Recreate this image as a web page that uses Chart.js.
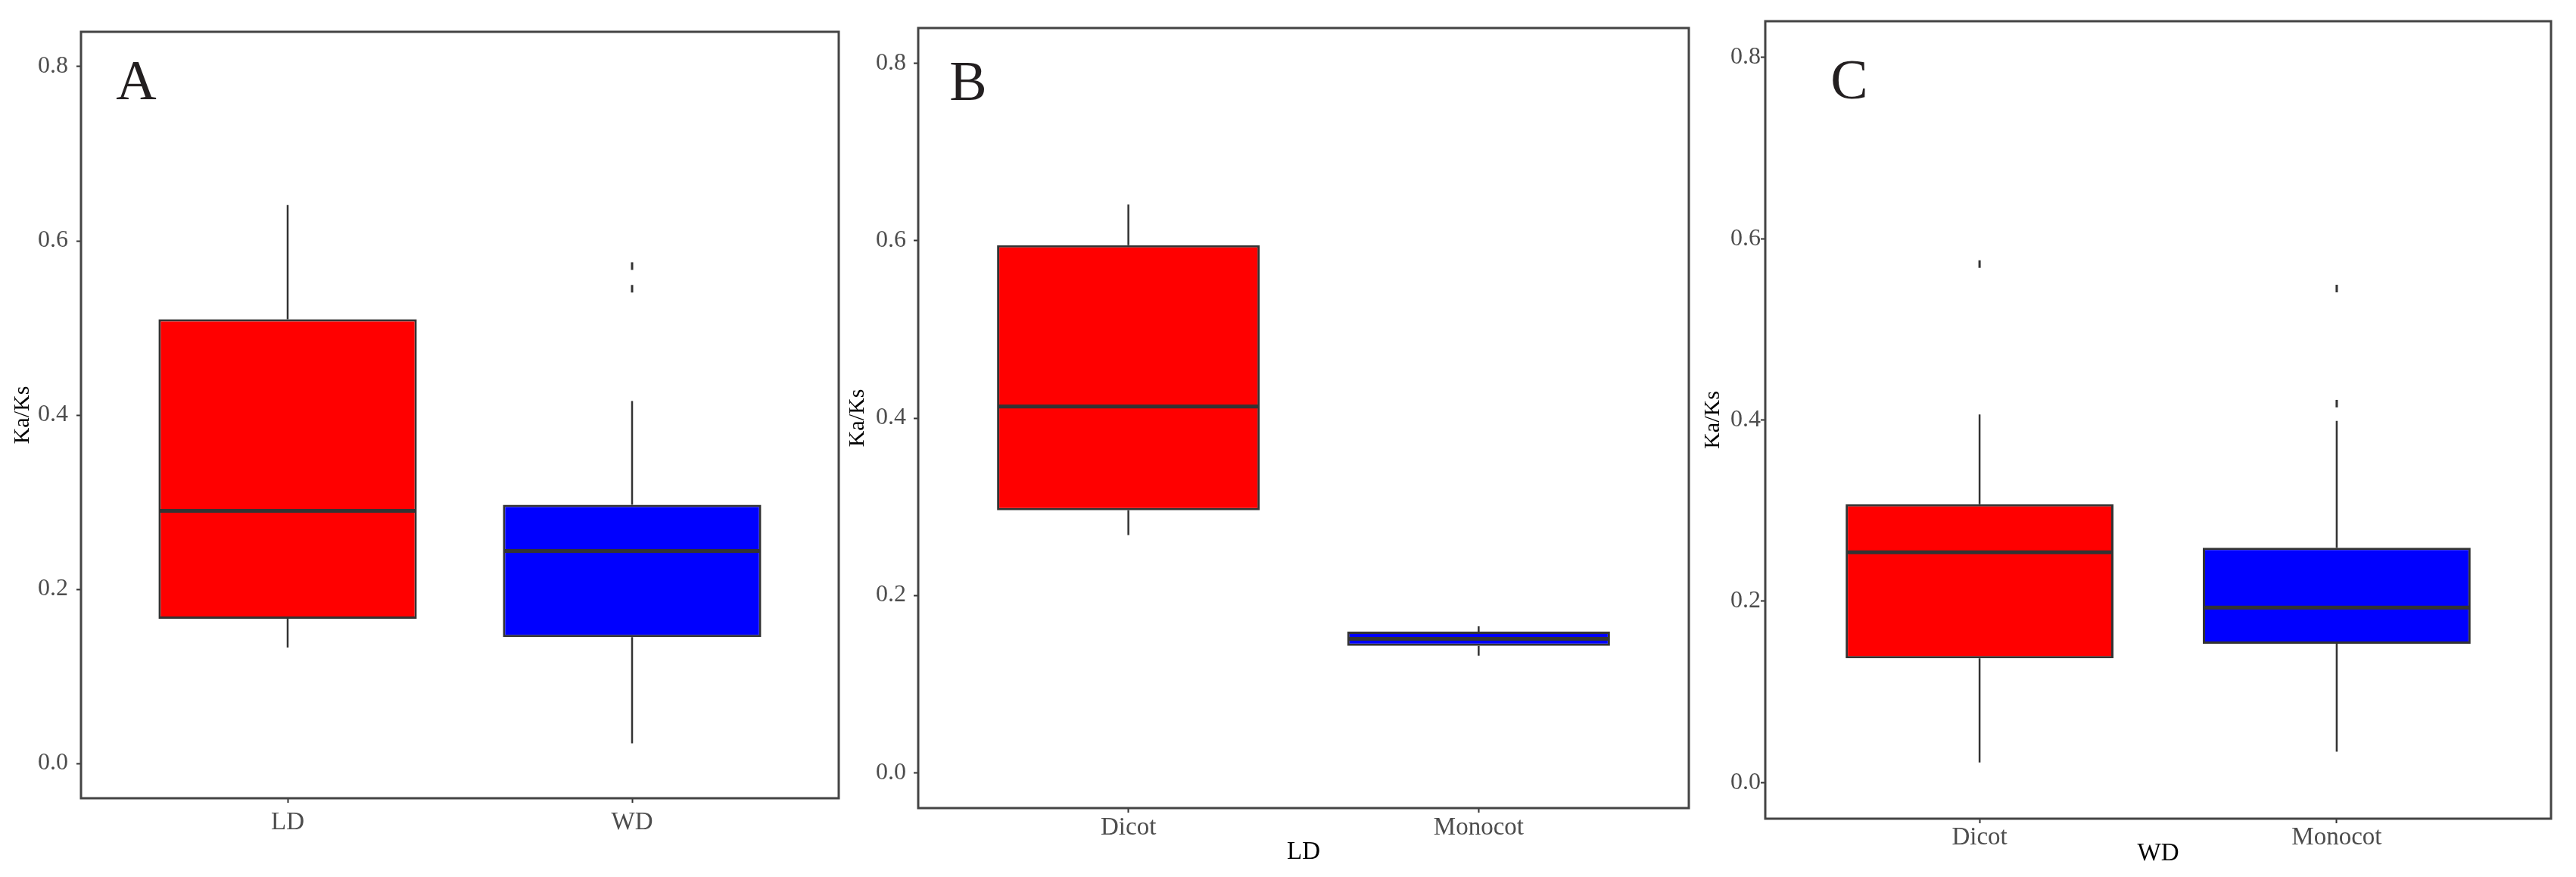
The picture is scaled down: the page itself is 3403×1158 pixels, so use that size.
<!DOCTYPE html>
<html>
<head>
<meta charset="utf-8">
<script src="https://cdn.jsdelivr.net/npm/chart.js@4.4.1/dist/chart.umd.min.js"></script>
<style>
    html, body { margin: 0; padding: 0; background: #fff; }
    #wrap { position: relative; width: 3403px; height: 1158px; }
    canvas { position: absolute; top: 0; }
</style>
</head>
<body>
<div id="wrap">
    <canvas id="chartA" width="1116" height="1158" style="left:0px"></canvas>
    <canvas id="chartB" width="1120" height="1158" style="left:1116px"></canvas>
    <canvas id="chartC" width="1167" height="1158" style="left:2236px"></canvas>
</div>
<script>
// Ka/Ks box plots
const yTicks = [0, 0.2, 0.4, 0.6, 0.8];
const boxColors = ["#ff0000", "#0000ff"];

// Panel A: LD vs WD
const categoriesA = ["LD", "WD"];
const lowA = [0.133, 0.023];
const q1A = [0.166, 0.145];
const medianA = [0.290, 0.244];
const q3A = [0.510, 0.297];
const highA = [0.641, 0.416];
const outliersA = [[], [0.545, 0.571]];

// Panel B: LD, Dicot vs Monocot
const categoriesB = ["Dicot", "Monocot"];
const lowB = [0.268, 0.132];
const q1B = [0.296, 0.143];
const medianB = [0.413, 0.151];
const q3B = [0.595, 0.159];
const highB = [0.641, 0.165];
const outliersB = [[], []];

// Panel C: WD, Dicot vs Monocot
const categoriesC = ["Dicot", "Monocot"];
const lowC = [0.022, 0.034];
const q1C = [0.137, 0.153];
const medianC = [0.254, 0.193];
const q3C = [0.307, 0.259];
const highC = [0.406, 0.399];
const outliersC = [[0.572], [0.418, 0.545]];

const serif = "'Liberation Serif', 'Times New Roman', serif";

function makePanel(id, cfg) {
    const canvas = document.getElementById(id);
    const stats = cfg.stats;

    // whiskers + median, positioned from the bar elements and the y scale
    const boxParts = {
        id: "boxParts",
        afterDatasetsDraw(chart) {
            const { ctx } = chart;
            const y = chart.scales.y;
            const bars = chart.getDatasetMeta(0).data;
            ctx.save();
            ctx.strokeStyle = "#333333";
            bars.forEach((bar, i) => {
                const x = bar.x;
                const half = bar.width / 2;
                ctx.lineWidth = 2.5;
                ctx.beginPath();
                ctx.moveTo(x, y.getPixelForValue(stats.high[i]));
                ctx.lineTo(x, y.getPixelForValue(stats.q3[i]));
                ctx.moveTo(x, y.getPixelForValue(stats.q1[i]));
                ctx.lineTo(x, y.getPixelForValue(stats.low[i]));
                ctx.stroke();
                const ym = y.getPixelForValue(stats.median[i]);
                ctx.lineWidth = 5;
                ctx.beginPath();
                ctx.moveTo(x - half + 1, ym);
                ctx.lineTo(x + half - 1, ym);
                ctx.stroke();
            });
            ctx.restore();
        },
        afterDraw(chart) {
            const { ctx, chartArea: a } = chart;
            ctx.save();
            ctx.strokeStyle = "#444444";
            ctx.lineWidth = 3;
            ctx.strokeRect(a.left, a.top, a.right - a.left, a.bottom - a.top);
            ctx.fillStyle = "#231f20";
            ctx.font = "74px " + serif;
            ctx.textAlign = "center";
            ctx.textBaseline = "middle";
            ctx.fillText(cfg.letter, a.left + cfg.letterDx, a.top + cfg.letterDy);
            ctx.restore();
        },
    };

    const outlierPoints = [];
    cfg.outliers.forEach((vals, i) => {
        vals.forEach((v) => outlierPoints.push({ x: i + 1, y: v }));
    });

    return new Chart(canvas, {
        type: "bar",
        data: {
            datasets: [
                {
                    type: "bar",
                    data: cfg.categories.map((c, i) => ({ x: i + 1, y: [stats.q1[i], stats.q3[i]] })),
                    backgroundColor: boxColors,
                    borderColor: "#333333",
                    borderWidth: 3,
                    borderSkipped: false,
                    categoryPercentage: 0.75,
                    barPercentage: 1,
                },
                {
                    type: "scatter",
                    data: outlierPoints,
                    pointStyle: "line",
                    rotation: 90,
                    radius: 5,
                    borderWidth: 3,
                    borderColor: "#333333",
                },
            ],
        },
        options: {
            responsive: false,
            animation: false,
            layout: {
                padding: { left: 0, top: cfg.plot.top, right: canvas.width - cfg.plot.right, bottom: 0 },
            },
            plugins: { legend: { display: false }, tooltip: { enabled: false } },
            scales: {
                x: {
                    type: "linear",
                    min: 0.4,
                    max: 2.6,
                    offset: false,
                    afterBuildTicks: (s) => { s.ticks = cfg.categories.map((_, i) => ({ value: i + 1 })); },
                    afterFit: (s) => { s.height = canvas.height - cfg.plot.bottom; },
                    grid: { offset: false, drawOnChartArea: false, tickLength: 6, tickWidth: 2, tickColor: "#333333" },
                    border: { display: false },
                    ticks: {
                        callback: (v) => cfg.categories[Math.round(v) - 1],
                        color: "#4d4d4d",
                        padding: cfg.xPad,
                        font: { family: serif, size: 33 },
                        maxRotation: 0,
                    },
                    title: {
                        display: !!cfg.xTitle,
                        text: cfg.xTitle,
                        color: "#000",
                        font: { family: serif, size: 33, lineHeight: 1 },
                        padding: { top: 0, bottom: cfg.xTitlePad },
                    },
                },
                y: {
                    min: -0.04,
                    max: 0.84,
                    afterBuildTicks: (s) => { s.ticks = yTicks.map((v) => ({ value: v })); },
                    afterFit: (s) => { s.width = cfg.plot.left; },
                    grid: { drawOnChartArea: false, tickLength: 6, tickWidth: 2, tickColor: "#333333" },
                    border: { display: false },
                    ticks: {
                        callback: (v) => v.toFixed(1),
                        color: "#4d4d4d",
                        padding: cfg.yPad,
                        font: { family: serif, size: 32 },
                    },
                    title: {
                        display: true,
                        text: "Ka/Ks",
                        color: "#000",
                        font: { family: serif, size: 30, lineHeight: 1 },
                        padding: { top: cfg.yTitlePad, bottom: 0 },
                    },
                },
            },
        },
        plugins: [boxParts],
    });
}

makePanel("chartA", {
    categories: categoriesA,
    stats: { low: lowA, q1: q1A, median: medianA, q3: q3A, high: highA },
    outliers: outliersA,
    plot: { left: 107, top: 42, right: 1111, bottom: 1054 },
    letter: "A", letterDx: 73, letterDy: 70,
    xTitle: "", xTitlePad: 0, xPad: 7, yPad: 11, yTitlePad: 15,
});

makePanel("chartB", {
    categories: categoriesB,
    stats: { low: lowB, q1: q1B, median: medianB, q3: q3B, high: highB },
    outliers: outliersB,
    plot: { left: 97, top: 37, right: 1115, bottom: 1067 },
    letter: "B", letterDx: 66, letterDy: 76,
    xTitle: "LD", xTitlePad: 16, xPad: 1, yPad: 10, yTitlePad: 2,
});

makePanel("chartC", {
    categories: categoriesC,
    stats: { low: lowC, q1: q1C, median: medianC, q3: q3C, high: highC },
    outliers: outliersC,
    plot: { left: 96, top: 28, right: 1134, bottom: 1081 },
    letter: "C", letterDx: 111, letterDy: 83,
    xTitle: "WD", xTitlePad: 14, xPad: 0, yPad: 0, yTitlePad: 12,
});
</script>
</body>
</html>
